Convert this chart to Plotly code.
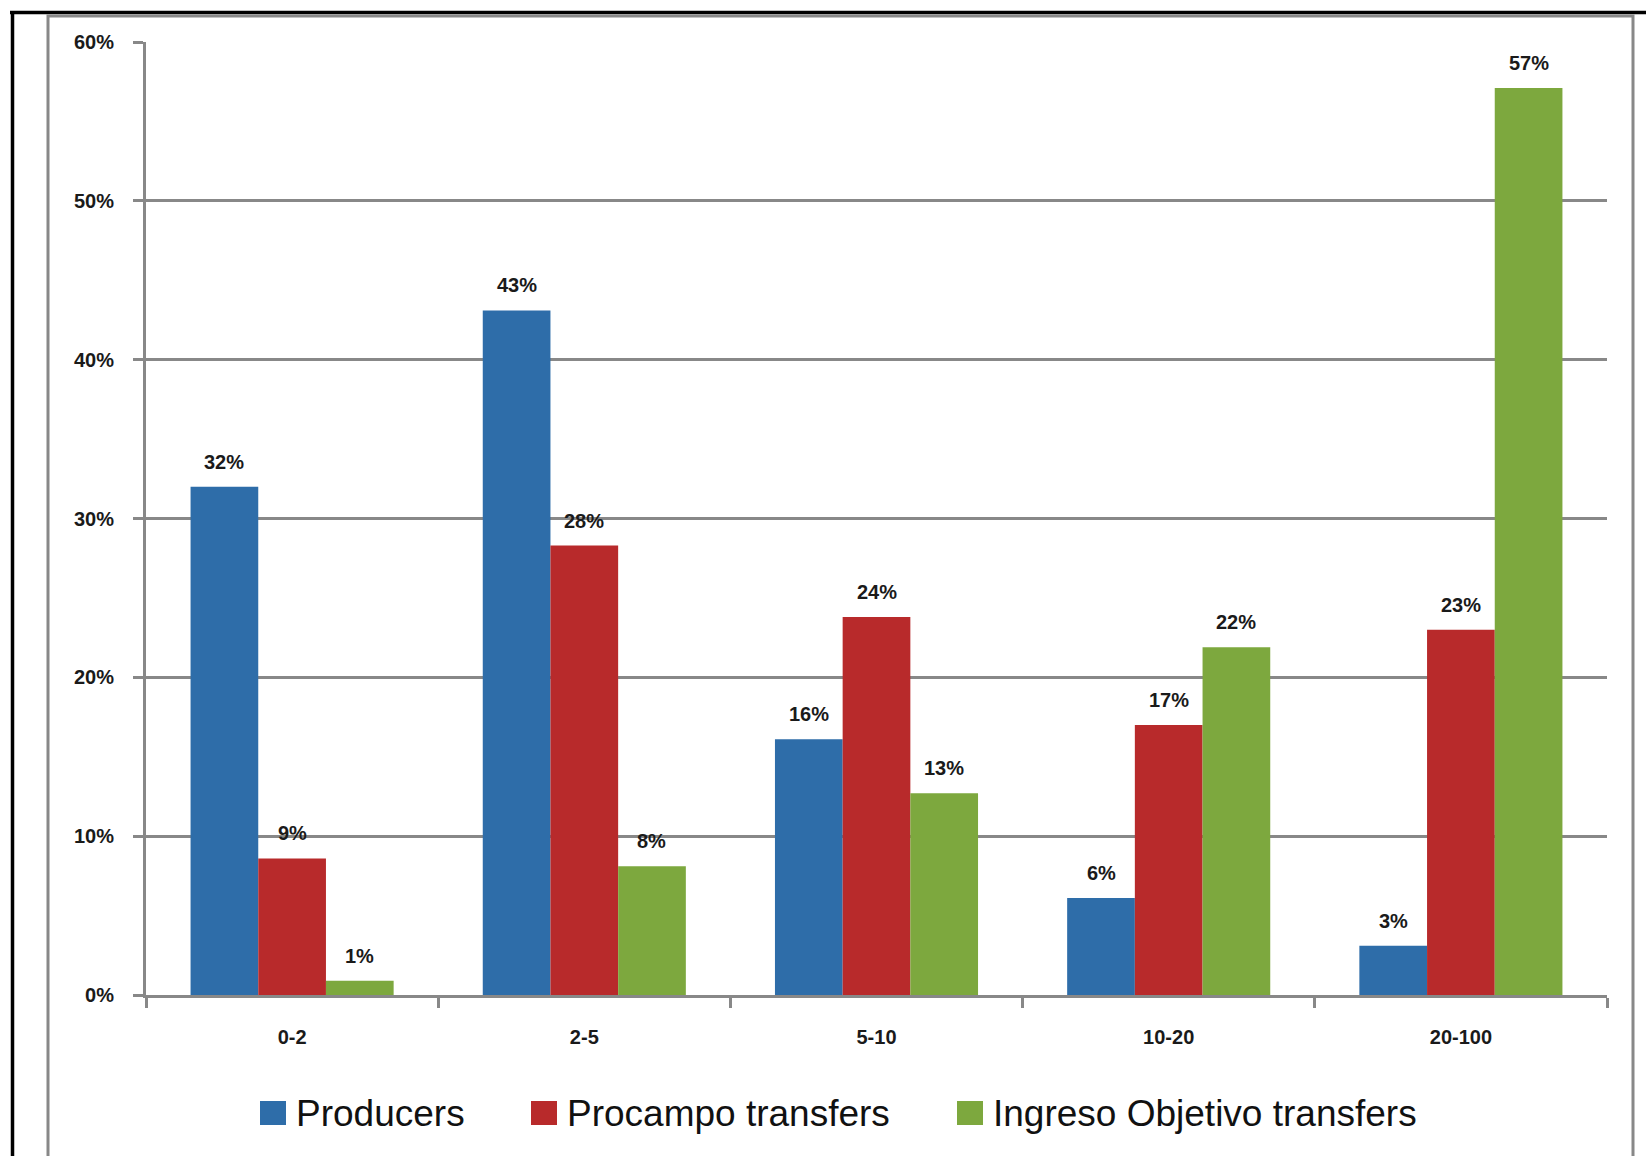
import plotly.graph_objects as go

categories = ["0-2", "2-5", "5-10", "10-20", "20-100"]
producers = [32.0, 43.1, 16.1, 6.1, 3.1]
procampo = [8.6, 28.3, 23.8, 17.0, 23.0]
ingreso = [0.9, 8.1, 12.7, 21.9, 57.1]
series_names = ["Producers", "Procampo transfers", "Ingreso Objetivo transfers"]
series_colors = ["#2E6DA9", "#B82A2B", "#7DA83E"]
y_ticks = [0, 10, 20, 30, 40, 50, 60]
y_tick_labels = ["0%", "10%", "20%", "30%", "40%", "50%", "60%"]

W, H = 1646, 1156
L, R, T, B = 146, 39, 42, 161
PW, PH = W - L - R, H - T - B
FONT = "Liberation Sans, Arial, sans-serif"
GRID = "#888888"
TXT = "#1a1a1a"


def px_x(p):
    return (p - L) / PW


def px_y(p):
    return (H - B - p) / PH


series = [producers, procampo, ingreso]
bargap = 0.305
fig = go.Figure()
for name, vals, col in zip(series_names, series, series_colors):
    fig.add_trace(go.Bar(
        x=categories, y=vals, name=name, marker_color=col,
        marker_line_width=0, showlegend=False, hoverinfo="skip",
    ))

# data labels
bar_px = PW / len(categories) * (1 - bargap) / 3
for i, vals in enumerate(series):
    for c, v in zip(categories, vals):
        fig.add_annotation(
            x=c, y=v, text=f"{round(v)}%", showarrow=False,
            xshift=(i - 1) * bar_px, yshift=25, yanchor="middle",
            font=dict(family=FONT, size=20, color=TXT, weight="bold"),
        )

# frame
fig.add_shape(type="line", xref="paper", yref="paper",
              x0=px_x(10), x1=px_x(1660), y0=px_y(12.5), y1=px_y(12.5),
              line=dict(color="black", width=3.5), layer="above")
fig.add_shape(type="line", xref="paper", yref="paper",
              x0=px_x(12.5), x1=px_x(12.5), y0=px_y(11), y1=px_y(1170),
              line=dict(color="black", width=3.5), layer="above")
fig.add_shape(type="rect", xref="paper", yref="paper",
              x0=px_x(48), x1=px_x(1633), y0=px_y(16), y1=px_y(1180),
              line=dict(color=GRID, width=3), layer="above")

# legend (manual, large swatches)
sw_x = [260, 531, 957]
for name, col, sx in zip(series_names, series_colors, sw_x):
    fig.add_shape(type="rect", xref="paper", yref="paper",
                  x0=px_x(sx), x1=px_x(sx + 26), y0=px_y(1101), y1=px_y(1125),
                  fillcolor=col, line=dict(width=0))
    fig.add_annotation(
        xref="paper", yref="paper", x=px_x(sx + 34), y=px_y(1113),
        text=name, showarrow=False, xanchor="left", yanchor="middle",
        font=dict(family=FONT, size=37, color="#111111"),
    )

fig.update_layout(
    width=W, height=H,
    margin=dict(l=L, r=R, t=T, b=B, autoexpand=False),
    paper_bgcolor="white", plot_bgcolor="white",
    barmode="group", bargap=bargap, bargroupgap=0,
    showlegend=False,
    font=dict(family=FONT, color=TXT),
)
fig.update_xaxes(
    type="category", showline=True, linecolor=GRID, linewidth=3,
    ticks="outside", tickson="boundaries", ticklen=10, tickwidth=3,
    tickcolor=GRID, showgrid=False, ticklabelstandoff=22,
    tickfont=dict(family=FONT, size=20, color=TXT, weight="bold"),
)
fig.update_yaxes(
    range=[0, 60], tickvals=y_ticks, ticktext=y_tick_labels,
    showline=True, linecolor=GRID, linewidth=3,
    ticks="outside", ticklen=10, tickwidth=3, tickcolor=GRID,
    showgrid=True, gridcolor=GRID, gridwidth=3, zeroline=False,
    ticklabelstandoff=15,
    tickfont=dict(family=FONT, size=20, color=TXT, weight="bold"),
)

fig.write_html("out.html", config={"displayModeBar": False},
               post_script="document.body.style.margin='0';")
